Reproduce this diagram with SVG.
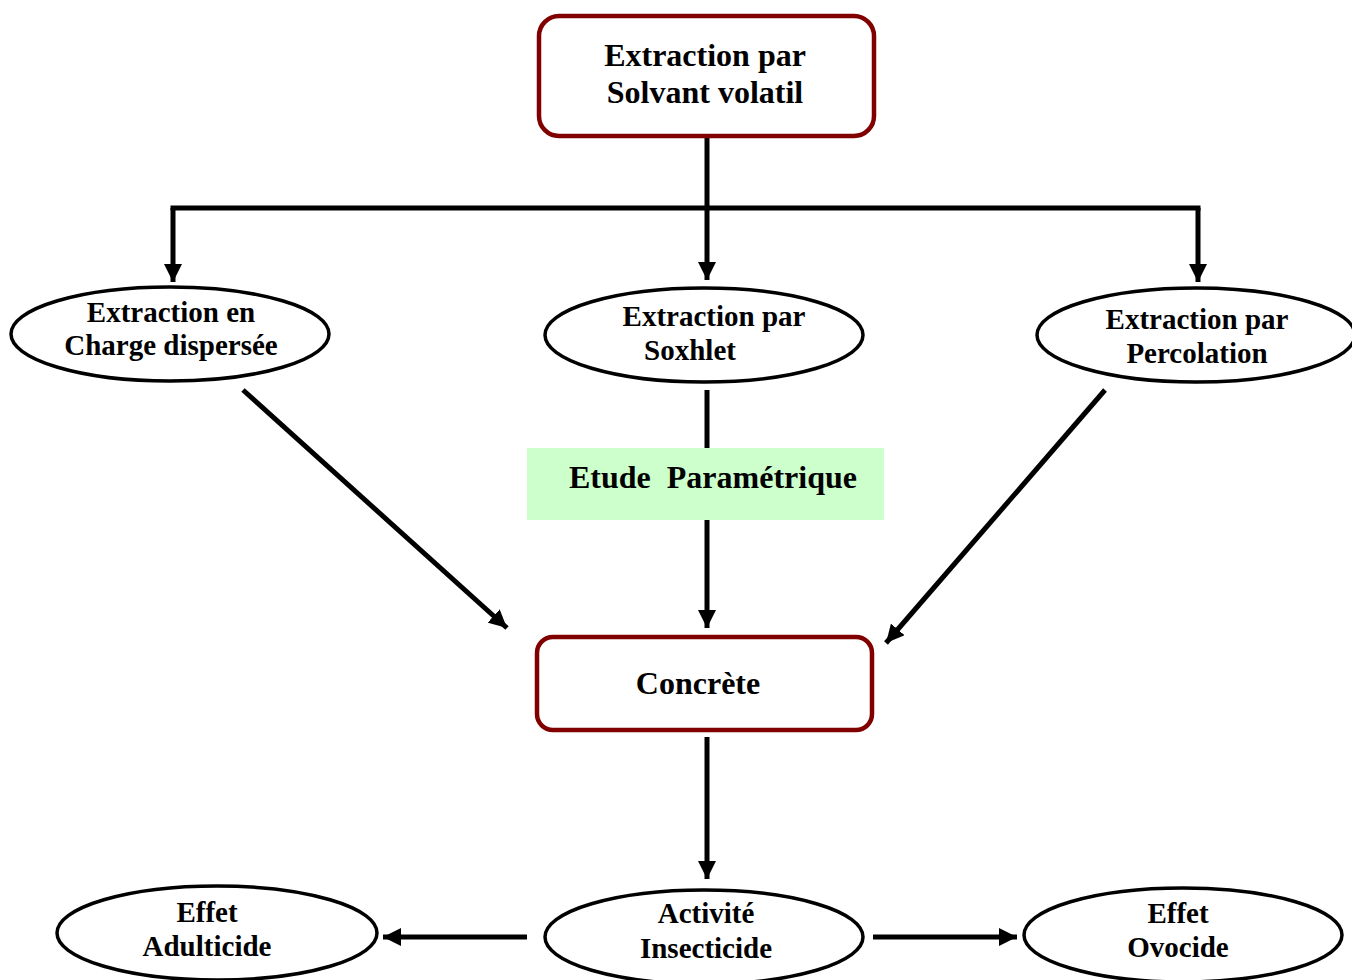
<svg xmlns="http://www.w3.org/2000/svg" width="1352" height="980" viewBox="0 0 1352 980">
<defs>
<marker id="ah" markerUnits="userSpaceOnUse" markerWidth="18" markerHeight="18" refX="18" refY="9" orient="auto">
<path d="M0,0 L18,9 L0,18 z" fill="#000"/>
</marker>
<style>
.box{fill:#fff;stroke:#800000;stroke-width:4.5}
.ell{fill:#fff;stroke:#000;stroke-width:3.5}
.ln{fill:none;stroke:#000;stroke-width:5}
.arr{fill:none;stroke:#000;stroke-width:5;marker-end:url(#ah)}
text{font-family:"Liberation Serif","Times New Roman",serif;font-weight:bold;fill:#000;text-anchor:middle}
.t32{font-size:32px}
.t29{font-size:29px}
</style>
</defs>
<rect width="1352" height="980" fill="#fff"/>
<g id="connectors">
<path class="ln" d="M707,137 L707,208"/>
<path class="ln" d="M170.5,208 L1200.5,208"/>
<path class="arr" d="M173,208 L173,282"/>
<path class="arr" d="M707,208 L707,280"/>
<path class="arr" d="M1198,208 L1198,282"/>
<path class="ln" d="M707,390 L707,448"/>
<path class="arr" d="M707,520 L707,628"/>
<path class="arr" d="M243,390 L507,628"/>
<path class="arr" d="M1105,390 L886,643"/>
<path class="arr" d="M707,737 L707,879"/>
<path class="arr" d="M527,937 L383,937"/>
<path class="arr" d="M873,937 L1017,937"/>
</g>
<g id="n-solvant">
<rect class="box" x="539" y="16" width="335" height="120" rx="20"/>
<text class="t32" x="705" y="66">Extraction par</text>
<text class="t32" x="705" y="103">Solvant volatil</text>
</g>
<g id="n-charge">
<ellipse class="ell" cx="170" cy="334" rx="159" ry="47"/>
<text class="t29" x="171" y="322">Extraction en</text>
<text class="t29" x="171" y="355">Charge dispersée</text>
</g>
<g id="n-soxhlet">
<ellipse class="ell" cx="704" cy="335" rx="159" ry="47"/>
<text class="t29" x="714" y="326">Extraction par</text>
<text class="t29" x="690" y="360">Soxhlet</text>
</g>
<g id="n-percolation">
<ellipse class="ell" cx="1196" cy="335" rx="159" ry="47"/>
<text class="t29" x="1197" y="329">Extraction par</text>
<text class="t29" x="1197" y="363">Percolation</text>
</g>
<g id="n-etude">
<rect x="527" y="448" width="357" height="72" fill="#ccffcc"/>
<text class="t32" x="713" y="488" xml:space="preserve">Etude  Paramétrique</text>
</g>
<g id="n-concrete">
<rect class="box" x="537" y="637" width="335" height="93" rx="16"/>
<text class="t32" x="698" y="694">Concrète</text>
</g>
<g id="n-adulticide">
<ellipse class="ell" cx="217" cy="933" rx="160" ry="47"/>
<text class="t29" x="207" y="922">Effet</text>
<text class="t29" x="207" y="956">Adulticide</text>
</g>
<g id="n-insecticide">
<ellipse class="ell" cx="704" cy="937" rx="159" ry="47"/>
<text class="t29" x="706" y="923">Activité</text>
<text class="t29" x="706" y="958">Insecticide</text>
</g>
<g id="n-ovocide">
<ellipse class="ell" cx="1183" cy="935" rx="159" ry="47"/>
<text class="t29" x="1178" y="923">Effet</text>
<text class="t29" x="1178" y="957">Ovocide</text>
</g>
</svg>
